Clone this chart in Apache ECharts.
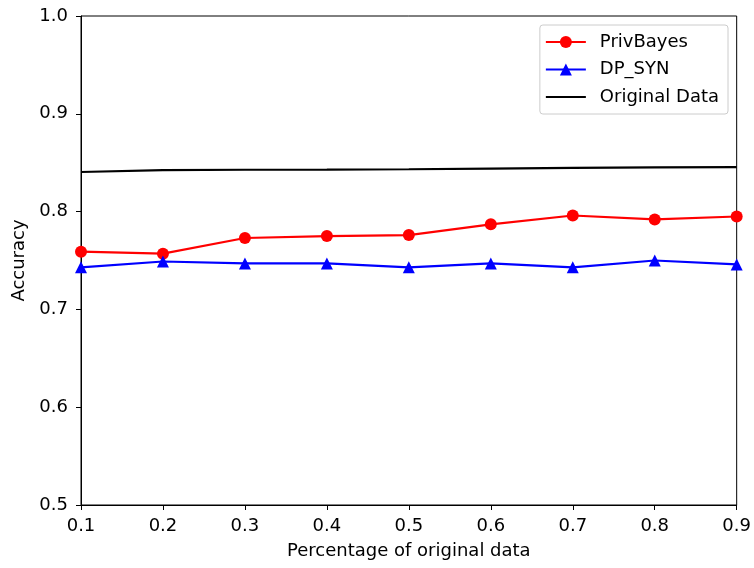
<!DOCTYPE html>
<html>
<head>
<meta charset="utf-8">
<script src="https://cdn.jsdelivr.net/npm/echarts@6/dist/echarts.min.js"></script>
<style>
  html, body { margin: 0; padding: 0; background: #fff; }
  #chart { width: 754px; height: 568px; }
</style>
</head>
<body>
<div id="chart"></div>
<script>
// Fraction of the original data used for training
const fractions = [0.1, 0.2, 0.3, 0.4, 0.5, 0.6, 0.7, 0.8, 0.9];
// Classification accuracy for each method
const privBayes = [0.759, 0.757, 0.773, 0.775, 0.776, 0.787, 0.796, 0.792, 0.795];
const dpSyn = [0.743, 0.749, 0.747, 0.747, 0.743, 0.747, 0.743, 0.750, 0.746];
const originalData = [0.8405, 0.8425, 0.8428, 0.8430, 0.8433, 0.8440, 0.8447, 0.8452, 0.8455];

const seriesNames = ['PrivBayes', 'DP_SYN', 'Original Data'];
const xTitle = 'Percentage of original data';
const yTitle = 'Accuracy';

const pairs = vals => fractions.map((x, i) => [x, vals[i]]);
const font = 'DejaVu Sans';
const fs = 18;

const chart = echarts.init(document.getElementById('chart'), null, { renderer: 'canvas' });
chart.setOption({
  animation: false,
  backgroundColor: '#fff',
  grid: {
    left: 81, right: 16, top: 16, bottom: 63,
    show: true, borderColor: '#000', borderWidth: 1, backgroundColor: 'transparent'
  },
  legend: {
    right: 26, top: 25,
    orient: 'vertical',
    itemWidth: 40, itemHeight: 15, itemGap: 9.5,
    padding: [8, 9, 8, 5],
    backgroundColor: '#fff',
    borderColor: '#ccc', borderWidth: 1, borderRadius: 3,
    textStyle: { fontFamily: font, fontSize: fs, lineHeight: 18, color: '#000', padding: [0, 0, 0, 9] },
    data: seriesNames
  },
  xAxis: {
    type: 'value', min: 0.1, max: 0.9, interval: 0.1,
    name: xTitle, nameLocation: 'middle', nameGap: 37,
    nameTextStyle: { fontFamily: font, fontSize: fs, color: '#000' },
    axisLine: { show: true, lineStyle: { color: '#000', width: 1 } },
    axisTick: { show: true, inside: false, length: 5, lineStyle: { color: '#000' } },
    axisLabel: { fontFamily: font, fontSize: fs, color: '#000', margin: 12,
                 formatter: v => v.toFixed(1) },
    splitLine: { show: false }
  },
  yAxis: {
    type: 'value', min: 0.5, max: 1.0, interval: 0.1,
    name: yTitle, nameLocation: 'middle', nameGap: 52, nameRotate: 90,
    nameTextStyle: { fontFamily: font, fontSize: fs, color: '#000' },
    axisLine: { show: true, lineStyle: { color: '#000', width: 1 } },
    axisTick: { show: true, inside: false, length: 5, lineStyle: { color: '#000' } },
    axisLabel: { fontFamily: font, fontSize: fs, color: '#000', margin: 13,
                 formatter: v => v.toFixed(1) },
    splitLine: { show: false }
  },
  series: [
    {
      name: seriesNames[0], type: 'line', data: pairs(privBayes),
      symbol: 'circle', symbolSize: 12, showSymbol: true,
      lineStyle: { color: '#ff0000', width: 2.2 },
      itemStyle: { color: '#ff0000' }, z: 3
    },
    {
      name: seriesNames[1], type: 'line', data: pairs(dpSyn),
      symbol: 'triangle', symbolSize: 12, showSymbol: true,
      lineStyle: { color: '#0000ff', width: 2.2 },
      itemStyle: { color: '#0000ff' }, z: 3
    },
    {
      // plain line: marker colour is transparent so the legend shows only the stroke
      name: seriesNames[2], type: 'line', data: pairs(originalData),
      symbol: 'circle', showSymbol: false,
      lineStyle: { color: '#000000', width: 2.2 },
      itemStyle: { color: 'rgba(0,0,0,0)' }, z: 2
    }
  ]
});
</script>
</body>
</html>
